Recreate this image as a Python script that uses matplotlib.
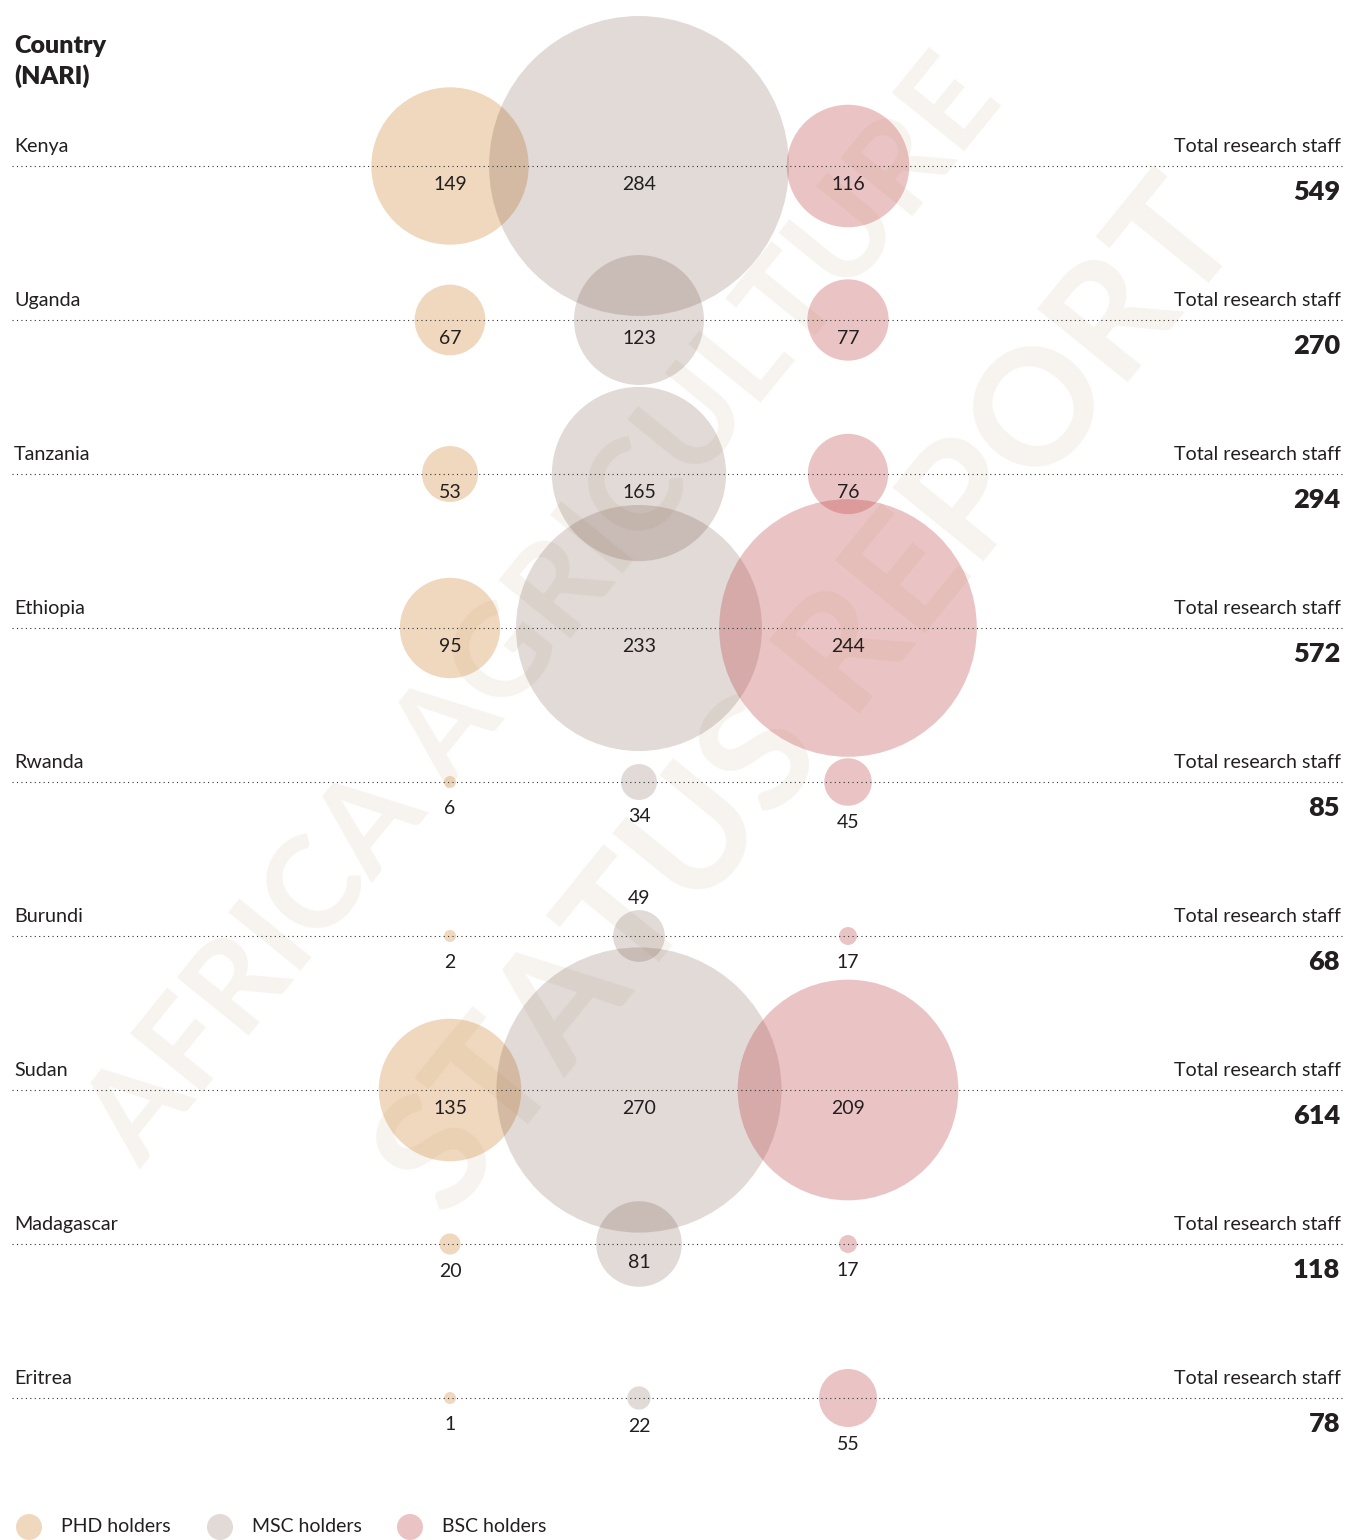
import numpy as np
import matplotlib.pyplot as plt
from matplotlib.patches import Circle

plt.rcParams['font.family'] = ['Lato', 'DejaVu Sans']

# data
countries = ['Kenya', 'Uganda', 'Tanzania', 'Ethiopia', 'Rwanda',
             'Burundi', 'Sudan', 'Madagascar', 'Eritrea']
phd = [149, 67, 53, 95, 6, 2, 135, 20, 1]
msc = [284, 123, 165, 233, 34, 49, 270, 81, 22]
bsc = [116, 77, 76, 244, 45, 17, 209, 17, 55]
totals = [549, 270, 294, 572, 85, 68, 614, 118, 78]
series_names = ['PHD holders', 'MSC holders', 'BSC holders']

# colours are drawn with transparency so overlaps get darker
base_cols = [(205/255, 128/255, 42/255), (105/255, 70/255, 55/255), (188/255, 62/255, 60/255)]
alphas = [0.30, 0.20, 0.30]
txt = '#231f20'

W, H = 1346, 1540
fig = plt.figure(figsize=(W / 100, H / 100), dpi=100)
ax = fig.add_axes([0, 0, 1, 1])
ax.set_xlim(0, W)
ax.set_ylim(H, 0)
ax.axis('off')

# watermark
wm = '#f7f4ef'
ax.text(545, 612, 'AFRICA AGRICULTURE', rotation=51, rotation_mode='anchor',
        ha='center', va='center', fontsize=93, fontweight='bold', color=wm, zorder=0)
ax.text(812, 700, 'STATUS REPORT', rotation=51, rotation_mode='anchor',
        ha='center', va='center', fontsize=116, fontweight='bold', color=wm, zorder=0)

col_x = [450, 639, 848]
row0, row_step = 166, 154
scale = 0.528  # px of radius per person

ax.text(14, 53, 'Country', fontsize=18, fontweight='heavy', color=txt)
ax.text(14, 84, '(NARI)', fontsize=18, fontweight='heavy', color=txt)

series = [phd, msc, bsc]
for i, name in enumerate(countries):
    y = row0 + row_step * i
    ax.plot([12, 1342], [y, y], color='#333333', lw=0.8,
            linestyle=(0, (1, 3)), zorder=3)
    ax.text(14, y - 14, name, fontsize=14.2, color=txt)
    ax.text(1341, y - 14, 'Total research staff', fontsize=14.1, color=txt, ha='right')
    ax.text(1340, y + 34, str(totals[i]), fontsize=19.5, fontweight='heavy',
            color=txt, ha='right')
    row_max = max(s[i] for s in series)
    for j, s in enumerate(series):
        v = s[i]
        r = max(6, v * scale)
        ax.add_patch(Circle((col_x[j], y), r, facecolor=base_cols[j],
                            alpha=alphas[j], edgecolor='none', zorder=2))
        if v >= 50 and row_max >= 60:
            ly = y + 19
        else:
            ly = y + max(26, r + 17)
            # avoid the big bubble of the next row
            if i + 1 < len(countries):
                nr = series[j][i + 1] * scale
                if abs(row0 + row_step * (i + 1) - ly) < nr:
                    ly = y - (r + 12)
        ax.text(col_x[j], ly, str(v), fontsize=14, color=txt,
                ha='center', va='center', zorder=4)

# legend
for j, name in enumerate(series_names):
    lx = [29, 220, 410][j]
    ax.add_patch(Circle((lx, 1527), 13, facecolor=base_cols[j],
                        alpha=alphas[j], edgecolor='none'))
    ax.text(lx + 32, 1527, name, fontsize=14, color=txt, va='center')

fig.savefig('out.png', dpi=100)
